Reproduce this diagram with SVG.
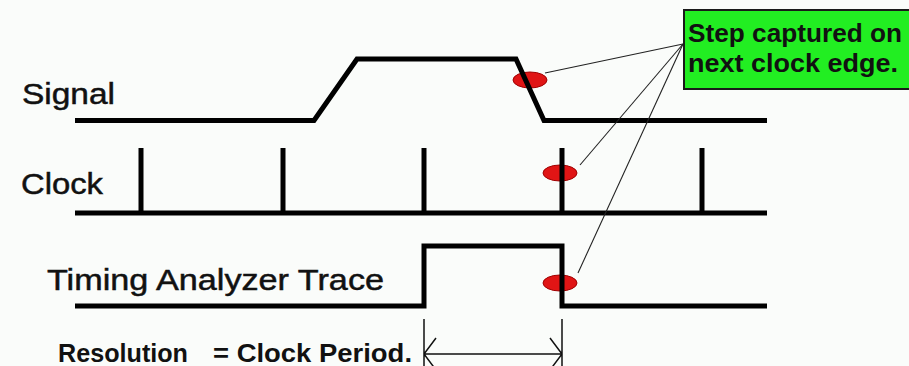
<svg xmlns="http://www.w3.org/2000/svg" width="909" height="366" viewBox="0 0 909 366">
<style>
.wave{fill:none;stroke:#000;stroke-width:5;stroke-linejoin:miter}
.dot{fill:#e01515;stroke:#a00000;stroke-width:1}
.lbl{font-family:"Liberation Sans",Arial,sans-serif;font-size:30px;fill:#111;stroke:#111;stroke-width:0.5}
.bold{font-family:"Liberation Sans",Arial,sans-serif;font-weight:bold;fill:#111}
.conn{fill:none;stroke:#222;stroke-width:1.1}
.dim{fill:none;stroke:#111;stroke-width:1.5}
</style>
<rect x="0" y="0" width="909" height="366" fill="#fafcfa"/>
<g id="markers">
<ellipse class="dot" cx="530" cy="80" rx="17" ry="8"/>
<ellipse class="dot" cx="560" cy="173" rx="17" ry="8"/>
<ellipse class="dot" cx="560" cy="283" rx="17" ry="8"/>
</g>
<g id="signal">
<polyline class="wave" points="75,120.5 314,120.5 357,59 516,59 544,120.5 767,120.5"/>
<text class="lbl" x="22" y="104" textLength="93" lengthAdjust="spacingAndGlyphs">Signal</text>
</g>
<g id="clock">
<path class="wave" d="M75,213 H767 M141,213 V148 M283,213 V148 M424,213 V148 M562,213 V148 M702,213 V148"/>
<text class="lbl" x="21" y="194" textLength="82" lengthAdjust="spacingAndGlyphs">Clock</text>
</g>
<g id="trace">
<polyline class="wave" points="75,306 424,306 424,246 562,246 562,306 767,306"/>
<text class="lbl" x="47" y="290" textLength="337" lengthAdjust="spacingAndGlyphs">Timing Analyzer Trace</text>
</g>
<g id="resolution">
<text class="bold" x="58" y="362" font-size="25" textLength="130" lengthAdjust="spacingAndGlyphs">Resolution</text>
<text class="bold" x="213" y="362" font-size="25" textLength="199" lengthAdjust="spacingAndGlyphs">= Clock Period.</text>
<path class="dim" d="M424,319 V366 M562,319 V366 M424,354 H562 M436,338 L424,354 L436,370 M550,338 L562,354 L550,370"/>
</g>
<g id="connectors">
<line class="conn" x1="683" y1="44" x2="545" y2="73"/>
<line class="conn" x1="683" y1="44" x2="580" y2="165"/>
<line class="conn" x1="683" y1="44" x2="578" y2="273"/>
</g>
<g id="callout">
<rect x="684" y="10" width="232" height="79" fill="#22ee22" stroke="#1a1a1a" stroke-width="2"/>
<text class="bold" x="688" y="42" font-size="26" fill="#0a200a" textLength="214" lengthAdjust="spacingAndGlyphs">Step captured on</text>
<text class="bold" x="688" y="72" font-size="26" fill="#0a200a" textLength="210" lengthAdjust="spacingAndGlyphs">next clock edge.</text>
</g>
</svg>
